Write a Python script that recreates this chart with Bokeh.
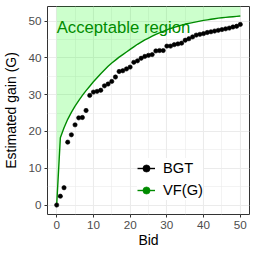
from bokeh.plotting import figure
from bokeh.models import Range1d, FixedTicker, Legend, LegendItem, Label, ColumnDataSource
from bokeh.embed import file_html
from bokeh.resources import INLINE

bid = list(range(0, 51))
bgt = [0.0, 2.4, 4.7, 17.1, 19.1, 21.8, 23.7, 23.8, 25.7, 29.8,
       30.7, 30.9, 31.2, 32.4, 32.9, 33.6, 34.8, 36.3, 36.5, 37.0,
       37.5, 38.8, 39.2, 39.9, 40.4, 40.7, 40.9, 41.9, 42.0, 42.0,
       43.2, 43.2, 43.6, 43.8, 44.0, 44.8, 45.2, 45.7, 46.2, 46.4,
       46.6, 46.9, 47.1, 47.3, 47.5, 47.7, 47.9, 48.1, 48.4, 48.6, 49.1]
vf = [0.0, 18.3, 21.0, 23.3, 25.2, 26.9, 28.4, 29.8, 31.1, 32.3,
      33.5, 34.6, 35.7, 36.7, 37.7, 38.6, 39.4, 40.2, 40.9, 41.6,
      42.3, 43.0, 43.7, 44.3, 44.9, 45.4, 45.9, 46.4, 46.8, 47.2,
      47.6, 48.0, 48.3, 48.6, 48.9, 49.2, 49.4, 49.6, 49.8, 50.0,
      50.2, 50.35, 50.5, 50.65, 50.8, 50.9, 51.0, 51.1, 51.2, 51.3, 51.4]
ticks = [0, 10, 20, 30, 40, 50]
minor = [5, 15, 25, 35, 45]
series_names = ["BGT", "VF(G)"]
region_label = "Acceptable region"
x_title = "Bid"
y_title = "Estimated gain (G)"

xmin, xmax = min(bid), max(bid)
ymin, ymax = min(min(bgt), min(vf)), max(max(bgt), max(vf))
xr = Range1d(xmin - 0.05 * (xmax - xmin), xmax + 0.05 * (xmax - xmin))
yr = Range1d(ymin - 0.05 * (ymax - ymin), ymax + 0.05 * (ymax - ymin))

p = figure(width=250, height=250, x_range=xr, y_range=yr,
           output_backend="svg", toolbar_location=None,
           min_border_left=42, min_border_right=1, min_border_top=6, min_border_bottom=34)

p.background_fill_color = "white"
p.border_fill_color = "white"
p.outline_line_color = "#333333"
p.outline_line_width = 1

for ax in (p.xaxis[0], p.yaxis[0]):
    ax.ticker = FixedTicker(ticks=ticks, minor_ticks=minor)
    ax.axis_line_color = None
    ax.major_tick_line_color = "#333333"
    ax.major_tick_out = 3
    ax.major_tick_in = 0
    ax.minor_tick_line_color = None
    ax.major_label_text_font = "Liberation Sans"
    ax.major_label_text_font_size = "11.7px"
    ax.major_label_text_color = "#4D4D4D"
    ax.major_label_standoff = 2
    ax.axis_label_text_font = "Liberation Sans"
    ax.axis_label_text_font_size = "14px"
    ax.axis_label_text_font_style = "normal"
    ax.axis_label_text_color = "black"

p.xaxis[0].axis_label = x_title
p.xaxis[0].axis_label_standoff = 0
p.yaxis[0].axis_label = y_title
p.yaxis[0].axis_label_standoff = 6

for g in (p.xgrid[0], p.ygrid[0]):
    g.ticker = FixedTicker(ticks=ticks, minor_ticks=minor)
    g.grid_line_color = "#EBEBEB"
    g.grid_line_width = 1.1
    g.minor_grid_line_color = "#EBEBEB"
    g.minor_grid_line_width = 0.6

src = ColumnDataSource(dict(x=bid, bgt=bgt, vf=vf, top=[yr.end + 5] * len(bid)))

p.varea(x="x", y1="vf", y2="top", source=src, fill_color="#00FF00", fill_alpha=0.2)

vf_line = p.line(x="x", y="vf", source=src, line_color="#008B00", line_width=1.4)
bgt_pts = p.scatter(x="x", y="bgt", source=src, size=4.3, fill_color="black",
                    line_color="black", line_width=0.6)

off = ColumnDataSource(dict(x=[xr.start - 100, xr.start - 99], y=[yr.start - 100, yr.start - 100]))
bgt_line_key = p.line(x="x", y="y", source=off, line_color="black", line_width=1.4)
vf_pt_key = p.scatter(x="x", y="y", source=off, size=4.3, fill_color="#008B00",
                      line_color="#008B00", line_width=0.6)

p.add_layout(Label(x=0, y=48.2, text=region_label, text_font="Liberation Sans",
                   text_font_size="16.7px", text_color="#008B00",
                   text_align="left", text_baseline="middle"))

legend = Legend(items=[LegendItem(label=series_names[0], renderers=[bgt_line_key, bgt_pts]),
                       LegendItem(label=series_names[1], renderers=[vf_line, vf_pt_key])],
                location=(90, 14), orientation="vertical",
                label_text_font="Liberation Sans", label_text_font_size="14.7px",
                label_text_color="black", glyph_width=18, glyph_height=20,
                label_standoff=8, spacing=2, padding=5, margin=0,
                border_line_color=None, background_fill_color="white", background_fill_alpha=1)
p.add_layout(legend, "center")

open("out.html", "w").write(file_html(p, INLINE))
